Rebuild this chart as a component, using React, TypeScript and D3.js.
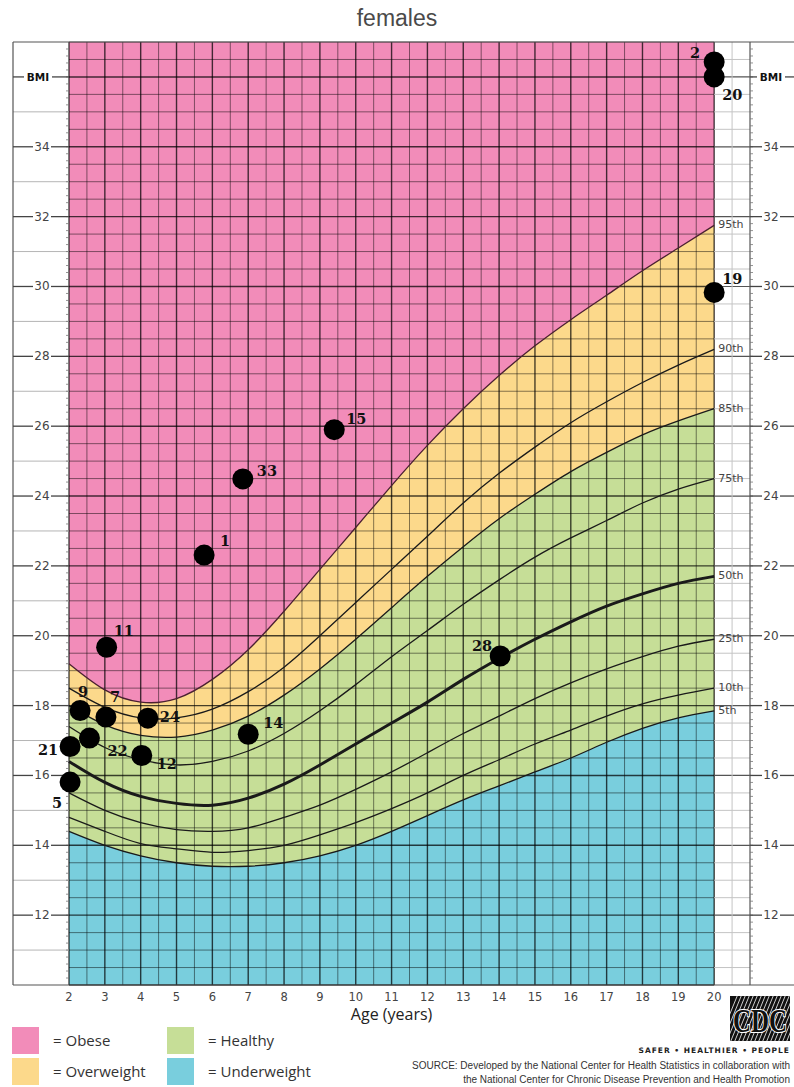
import { useEffect, useRef } from 'react';
import * as d3 from 'd3';

const W = 794;
const H = 1087;

// CDC BMI-for-age, girls at whole years
const ages = [2, 3, 4, 5, 6, 7, 8, 9, 10, 11, 12, 13, 14, 15, 16, 17, 18, 19, 20];
const p5 = [14.4, 14.0, 13.7, 13.5, 13.4, 13.4, 13.5, 13.7, 14.0, 14.4, 14.85, 15.3, 15.7, 16.1, 16.5, 16.95, 17.35, 17.65, 17.85];
const p10 = [14.8, 14.4, 14.05, 13.9, 13.8, 13.85, 14.0, 14.3, 14.65, 15.05, 15.5, 16.0, 16.45, 16.9, 17.3, 17.7, 18.05, 18.3, 18.5];
const p25 = [15.5, 15.0, 14.65, 14.45, 14.4, 14.5, 14.8, 15.15, 15.6, 16.1, 16.65, 17.2, 17.7, 18.2, 18.65, 19.05, 19.4, 19.7, 19.9];
const p50 = [16.4, 15.8, 15.4, 15.2, 15.15, 15.35, 15.75, 16.3, 16.9, 17.5, 18.1, 18.75, 19.35, 19.9, 20.4, 20.85, 21.2, 21.5, 21.7];
const p75 = [17.4, 16.8, 16.45, 16.3, 16.4, 16.7, 17.2, 17.85, 18.6, 19.4, 20.15, 20.9, 21.6, 22.25, 22.8, 23.3, 23.8, 24.2, 24.5];
const p85 = [18.0, 17.45, 17.15, 17.1, 17.3, 17.7, 18.3, 19.05, 19.9, 20.8, 21.7, 22.55, 23.35, 24.05, 24.7, 25.25, 25.75, 26.15, 26.5];
const p90 = [18.5, 17.95, 17.65, 17.65, 17.9, 18.4, 19.1, 20.0, 20.95, 21.9, 22.85, 23.8, 24.65, 25.4, 26.1, 26.7, 27.25, 27.75, 28.2];
const p95 = [19.2, 18.45, 18.1, 18.2, 18.75, 19.6, 20.7, 21.9, 23.1, 24.3, 25.45, 26.5, 27.45, 28.3, 29.05, 29.75, 30.45, 31.1, 31.75];

const percentileNames = ['5th', '10th', '25th', '50th', '75th', '85th', '90th', '95th'];
const percentileSeries = [p5, p10, p25, p50, p75, p85, p90, p95];

// plotted children
const childIds = [2, 20, 19, 15, 33, 1, 11, 9, 7, 24, 22, 21, 12, 5, 14, 28];
const childAges = [20, 20, 20, 9.4, 6.85, 5.77, 3.05, 2.31, 3.03, 4.2, 2.57, 2.03, 4.03, 2.03, 7.0, 14.03];
const childBmis = [36.43, 36.0, 29.83, 25.9, 24.49, 22.31, 19.67, 17.86, 17.67, 17.64, 17.07, 16.83, 16.57, 15.81, 17.18, 19.42];

const ageTicks = d3.range(2, 21);
const bmiTicks = d3.range(12, 36, 2);

const legendLabels = ['= Obese', '= Overweight', '= Healthy', '= Underweight'];

// label placement next to each dot
const labelPos: Record<number, [number, number, string]> = {
  2: [-14, -4, 'end'],
  20: [8, 23, 'start'],
  19: [8, -8, 'start'],
  15: [12, -6, 'start'],
  33: [14, -3, 'start'],
  1: [16, -9, 'start'],
  11: [7, -11, 'start'],
  9: [-2, -13, 'start'],
  7: [4, -15, 'start'],
  24: [12, 4, 'start'],
  22: [18, 18, 'start'],
  21: [-12, 9, 'end'],
  12: [15, 13, 'start'],
  5: [-18, 26, 'start'],
  14: [15, -6, 'start'],
  28: [-8, -5, 'end'],
};

const COLORS = {
  obese: '#F28CB9',
  over: '#FCD98B',
  healthy: '#C6DE97',
  under: '#79CEDD',
};

const TOP = 42;
const BOTTOM = 985;
const LEFT_EDGE = 13;

export default function App() {
  const svgRef = useRef<SVGSVGElement>(null);

  useEffect(() => {
    if (!svgRef.current) return;
    const svg = d3.select(svgRef.current);
    svg.selectAll('*').remove();

    const x = d3.scaleLinear().domain([2, 21]).range([69, 750]);
    const y = d3.scaleLinear().domain([10, 37]).range([BOTTOM, TOP]);
    const x0 = x(2);
    const x20 = x(20);
    const x21 = x(21);
    const curve = d3.curveNatural;

    // title
    svg
      .append('text')
      .attr('x', 397)
      .attr('y', 26)
      .attr('text-anchor', 'middle')
      .attr('font-family', 'Liberation Sans, Arial, sans-serif')
      .attr('font-size', 23)
      .attr('fill', '#4a4a4a')
      .text('females');

    // colored bands
    const bands = svg.append('g');
    bands
      .append('rect')
      .attr('x', x0)
      .attr('y', TOP)
      .attr('width', x20 - x0)
      .attr('height', BOTTOM - TOP)
      .attr('fill', COLORS.obese);

    const areaBelow = (vals: number[]) =>
      d3
        .area<number>()
        .x((_, i) => x(ages[i]))
        .y0(BOTTOM)
        .y1((d) => y(d))
        .curve(curve)(vals);

    bands.append('path').attr('d', areaBelow(p95)).attr('fill', COLORS.over);
    bands.append('path').attr('d', areaBelow(p85)).attr('fill', COLORS.healthy);
    bands.append('path').attr('d', areaBelow(p5)).attr('fill', COLORS.under);

    // grid inside plot
    const grid = svg.append('g');
    d3.range(2, 20.01, 0.5).forEach((a) => {
      const major = Math.abs(a - Math.round(a)) < 1e-6;
      grid
        .append('line')
        .attr('x1', x(a))
        .attr('x2', x(a))
        .attr('y1', TOP)
        .attr('y2', BOTTOM)
        .attr('stroke', '#000')
        .attr('stroke-opacity', major ? 0.72 : 0.48)
        .attr('stroke-width', major ? 1.4 : 1);
    });
    d3.range(10, 37.01, 0.5).forEach((b) => {
      const major = Math.abs(b / 2 - Math.round(b / 2)) < 1e-6;
      grid
        .append('line')
        .attr('x1', x0)
        .attr('x2', x20)
        .attr('y1', y(b))
        .attr('y2', y(b))
        .attr('stroke', '#000')
        .attr('stroke-opacity', major ? 0.72 : 0.48)
        .attr('stroke-width', major ? 1.4 : 1);
    });

    // white strip right of age 20
    d3.range(10.5, 37, 0.5).forEach((b) => {
      const even = Math.abs(b / 2 - Math.round(b / 2)) < 1e-6;
      grid
        .append('line')
        .attr('x1', x20)
        .attr('x2', x21)
        .attr('y1', y(b))
        .attr('y2', y(b))
        .attr('stroke', even ? '#555' : '#c4c4c4')
        .attr('stroke-width', even ? 1.2 : 1);
    });
    grid
      .append('line')
      .attr('x1', x(20.5))
      .attr('x2', x(20.5))
      .attr('y1', TOP)
      .attr('y2', BOTTOM)
      .attr('stroke', '#c4c4c4');

    // left white panel: odd values as faint rules
    d3.range(11, 37, 2).forEach((b) => {
      grid
        .append('line')
        .attr('x1', LEFT_EDGE)
        .attr('x2', x0)
        .attr('y1', y(b))
        .attr('y2', y(b))
        .attr('stroke', '#b5b5b5');
    });

    // frame
    const frame = svg.append('g').attr('stroke', '#555').attr('stroke-width', 1.2);
    frame.append('line').attr('x1', LEFT_EDGE).attr('x2', W).attr('y1', TOP).attr('y2', TOP);
    frame.append('line').attr('x1', LEFT_EDGE).attr('x2', W).attr('y1', BOTTOM).attr('y2', BOTTOM);
    frame.append('line').attr('x1', LEFT_EDGE).attr('x2', LEFT_EDGE).attr('y1', TOP).attr('y2', BOTTOM);
    frame.append('line').attr('x1', x21).attr('x2', x21).attr('y1', TOP).attr('y2', BOTTOM);

    // minor ticks along both axes
    const ticks = svg.append('g').attr('stroke', '#777').attr('stroke-width', 0.8);
    d3.range(10.2, 37, 0.2).forEach((b) => {
      ticks.append('line').attr('x1', x0 - 3).attr('x2', x0).attr('y1', y(b)).attr('y2', y(b));
      ticks.append('line').attr('x1', x21).attr('x2', x21 + 3).attr('y1', y(b)).attr('y2', y(b));
    });

    // BMI tick labels, both sides
    const axisFont = 'DejaVu Sans, Verdana, sans-serif';
    const sideLabel = (cx: number, left: number, right: number, b: number, txt: string, bold: boolean) => {
      const g = svg.append('g');
      const half = bold ? 14 : 9;
      g.append('line')
        .attr('x1', left)
        .attr('x2', cx - half)
        .attr('y1', y(b))
        .attr('y2', y(b))
        .attr('stroke', '#444')
        .attr('stroke-width', 1.3);
      g.append('line')
        .attr('x1', cx + half)
        .attr('x2', right)
        .attr('y1', y(b))
        .attr('y2', y(b))
        .attr('stroke', '#444')
        .attr('stroke-width', 1.3);
      g.append('text')
        .attr('x', cx)
        .attr('y', y(b) + 4)
        .attr('text-anchor', 'middle')
        .attr('font-family', axisFont)
        .attr('font-size', bold ? 10.5 : 12)
        .attr('font-weight', bold ? 'bold' : 'normal')
        .attr('fill', bold ? '#111' : '#444')
        .text(txt);
    };
    bmiTicks.forEach((b) => {
      sideLabel(42, LEFT_EDGE, x0, b, String(b), false);
      sideLabel(771, x21, W, b, String(b), false);
    });
    sideLabel(38, LEFT_EDGE, x0, 36, 'BMI', true);
    sideLabel(771, x21, W, 36, 'BMI', true);

    // percentile curves
    const line = d3
      .line<number>()
      .x((_, i) => x(ages[i]))
      .y((d) => y(d))
      .curve(curve);
    const curves = svg.append('g').attr('fill', 'none');
    percentileSeries.forEach((vals, k) => {
      const isMedian = percentileNames[k] === '50th';
      curves
        .append('path')
        .attr('d', line(vals))
        .attr('stroke', k === 7 ? '#4a2030' : '#1a1a1a')
        .attr('stroke-width', isMedian ? 3 : 1.3);
      svg
        .append('text')
        .attr('x', x20 + 4)
        .attr('y', y(vals[vals.length - 1]) + 3)
        .attr('font-family', axisFont)
        .attr('font-size', 11)
        .attr('fill', '#444')
        .text(percentileNames[k]);
    });

    // age axis labels
    ageTicks.forEach((a) => {
      svg
        .append('text')
        .attr('x', x(a))
        .attr('y', 1001)
        .attr('text-anchor', 'middle')
        .attr('font-family', axisFont)
        .attr('font-size', 11.5)
        .attr('fill', '#444')
        .text(String(a));
    });
    svg
      .append('text')
      .attr('x', (x0 + x20) / 2)
      .attr('y', 1020)
      .attr('text-anchor', 'middle')
      .attr('font-family', 'Open Sans, sans-serif')
      .attr('font-size', 16)
      .attr('fill', '#222')
      .text('Age (years)');

    // children
    const dots = svg.append('g');
    childIds.forEach((id, i) => {
      const cx = x(childAges[i]);
      const cy = y(childBmis[i]);
      dots.append('circle').attr('cx', cx).attr('cy', cy).attr('r', 10.5).attr('fill', '#000');
    });
    childIds.forEach((id, i) => {
      const cx = x(childAges[i]);
      const cy = y(childBmis[i]);
      const [dx, dy, anchor] = labelPos[id];
      dots
        .append('text')
        .attr('x', cx + dx)
        .attr('y', cy + dy)
        .attr('text-anchor', anchor)
        .attr('font-family', 'DejaVu Serif, serif')
        .attr('font-weight', 'bold')
        .attr('font-size', 14.5)
        .attr('fill', '#111')
        .text(String(id));
    });

    // legend
    const legendColors = [COLORS.obese, COLORS.over, COLORS.healthy, COLORS.under];
    legendLabels.forEach((lab, i) => {
      const lx = i < 2 ? 12 : 167;
      const ly = i % 2 === 0 ? 1027 : 1058;
      svg.append('rect').attr('x', lx).attr('y', ly).attr('width', 27).attr('height', 27).attr('fill', legendColors[i]);
      svg
        .append('text')
        .attr('x', lx + 41)
        .attr('y', ly + 19)
        .attr('font-family', 'Open Sans, sans-serif')
        .attr('font-size', 15)
        .attr('fill', '#333')
        .text(lab);
    });

    // CDC logo (approximation)
    const logo = svg.append('g');
    const clip = svg.append('clipPath').attr('id', 'cdcclip');
    clip.append('rect').attr('x', 730).attr('y', 996).attr('width', 60).attr('height', 45);
    logo.append('rect').attr('x', 730).attr('y', 996).attr('width', 60).attr('height', 45).attr('fill', '#111');
    const stripes = logo.append('g').attr('clip-path', 'url(#cdcclip)');
    d3.range(0, 18).forEach((k) => {
      stripes
        .append('line')
        .attr('x1', 718 + k * 4)
        .attr('y1', 1043)
        .attr('x2', 738 + k * 4)
        .attr('y2', 994)
        .attr('stroke', '#fff')
        .attr('stroke-width', 0.8);
    });
    logo
      .append('text')
      .attr('x', 0)
      .attr('y', 0)
      .attr('transform', 'translate(760,1032) scale(1,1.35)')
      .attr('text-anchor', 'middle')
      .attr('font-family', 'Liberation Serif, serif')
      .attr('font-weight', 'bold')
      .attr('font-size', 25)
      .attr('fill', '#111')
      .attr('stroke', '#fff')
      .attr('stroke-width', 1.6)
      .attr('paint-order', 'stroke')
      .text('CDC');

    svg
      .append('text')
      .attr('x', 790)
      .attr('y', 1053)
      .attr('text-anchor', 'end')
      .attr('font-family', 'DejaVu Sans, sans-serif')
      .attr('font-weight', 'bold')
      .attr('font-size', 7.5)
      .attr('letter-spacing', 1)
      .attr('fill', '#222')
      .text('SAFER • HEALTHIER • PEOPLE');

    const src = [
      'SOURCE: Developed by the National Center for Health Statistics in collaboration with',
      'the National Center for Chronic Disease Prevention and Health Promotion',
    ];
    src.forEach((s, i) => {
      svg
        .append('text')
        .attr('x', 790)
        .attr('y', 1069 + i * 14)
        .attr('text-anchor', 'end')
        .attr('font-family', 'Liberation Sans, Arial, sans-serif')
        .attr('font-size', 10)
        .attr('fill', '#333')
        .text(s);
    });
  }, []);

  return (
    <svg
      ref={svgRef}
      width={W}
      height={H}
      viewBox={`0 0 ${W} ${H}`}
      style={{ position: 'absolute', left: 0, top: 0, background: '#fff' }}
    />
  );
}
